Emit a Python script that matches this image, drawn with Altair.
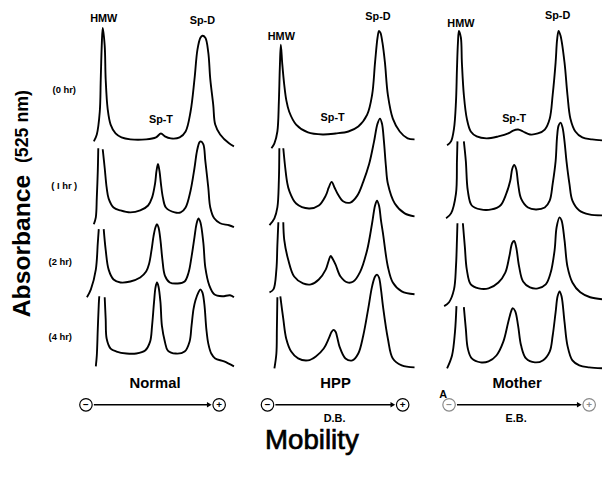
import altair as alt
import pandas as pd

# ---------------- densitometer traces (x = mobility, y = pen position) ----------------
# Normal
N0_X = [95, 98, 101, 102, 103, 104, 106, 107, 109, 112, 117, 123, 132, 148, 158, 163, 167, 173, 182, 188, 193, 197, 200, 203, 205, 208, 211, 213, 216, 218, 223, 232, 237]
N0_Y = [140, 133, 110, 77, 43, 25, 43, 77, 107, 123, 132, 136, 138, 138, 136, 132, 135, 137, 136, 130, 110, 77, 47, 35, 33, 35, 50, 77, 103, 123, 133, 142, 145]
N0_BREAK = 0

N1_X = [95, 97, 98, 99, 99.5, 104, 106, 108, 110, 115, 122, 132, 142, 150, 154, 157, 158.5, 160, 161.5, 163, 165, 168, 177, 183, 188, 193, 197, 199.5, 202, 203.5, 206, 208, 211, 213, 217, 223, 232, 237]
N1_Y = [224, 217, 197, 170, 147, 148, 167, 187, 198, 207, 210, 212, 210, 205, 197, 183, 170, 163, 170, 183, 197, 207, 212, 212, 207, 190, 167, 150, 141, 140, 143, 160, 187, 207, 218, 223, 225, 227]
N1_BREAK = 5

N2_X = [88, 92, 97, 99, 100, 105, 107, 110, 115, 122, 132, 142, 148, 151, 153.5, 155.5, 157.5, 159, 160.5, 162.5, 164.5, 167, 172, 180, 187, 191, 194, 197, 199, 201, 203, 206, 208, 212, 217, 225, 233, 237]
N2_Y = [298, 290, 270, 243, 229, 229, 250, 270, 280, 283, 282, 278, 272, 264, 250, 236, 227, 224, 227, 240, 260, 276, 283, 284, 282, 273, 257, 237, 224, 218, 222, 243, 268, 286, 295, 297, 296, 298]
N2_BREAK = 5

N4_X = [97, 98, 99, 100, 100.5, 106, 107, 108, 112, 118, 128, 138, 147, 152, 154, 156, 157.5, 159, 160.5, 162.5, 164, 167, 170, 178, 187, 192, 194, 196, 198, 201, 203, 205, 207, 209, 211, 214, 218, 227, 237]
N4_Y = [368, 357, 330, 305, 297, 298, 320, 340, 350, 353, 355, 355, 352, 343, 327, 303, 288, 283, 287, 303, 327, 343, 352, 355, 353, 343, 327, 310, 301, 293, 290, 293, 305, 330, 345, 355, 360, 363, 368]
N4_BREAK = 5

# HPP
H0_X = [275, 278, 281, 282.5, 283.5, 284.5, 286, 288, 290, 293, 300, 312, 327, 340, 353, 363, 372, 377, 380, 382.5, 384, 385.5, 387.5, 390, 393, 398, 405, 413, 420]
H0_Y = [147, 142, 130, 100, 65, 42, 62, 83, 98, 110, 123, 131, 133, 132, 130, 125, 113, 93, 60, 35, 28, 30, 40, 60, 93, 117, 130, 137, 138]
H0_BREAK = 0

H1_X = [273, 278, 281, 282.5, 283, 287, 289, 291, 293, 300, 313, 323, 330, 333, 336, 339, 342, 348, 355, 362, 368, 374, 379, 382.5, 385, 387, 389, 391, 393, 400, 410, 420]
H1_Y = [225, 218, 207, 180, 147, 147, 167, 182, 190, 203, 208, 205, 195, 187, 181, 187, 193, 201, 202, 195, 181, 163, 140, 122, 117, 122, 140, 165, 183, 203, 213, 216]
H1_BREAK = 5

H2_X = [273, 277, 280, 281, 282, 287, 288, 292, 298, 307, 315, 323, 330, 333, 335, 337, 340, 345, 352, 358, 365, 372, 377, 380, 382, 384, 386, 388, 393, 398, 407, 420]
H2_Y = [293, 290, 270, 245, 222, 222, 240, 260, 277, 284, 285, 280, 270, 261, 256, 259, 265, 277, 283, 282, 272, 250, 223, 205, 200, 205, 220, 233, 267, 283, 292, 295]
H2_BREAK = 5

H4_X = [278, 280, 280.5, 281, 284, 287, 290, 295, 302, 312, 320, 328, 333, 336, 338, 340, 342, 344, 350, 357, 363, 368, 373, 377, 380, 382, 384, 386, 388, 393, 398, 407, 420]
H4_Y = [370, 355, 330, 298, 297, 320, 340, 353, 360, 362, 358, 350, 340, 333, 331, 333, 340, 348, 360, 362, 355, 337, 310, 287, 277, 275, 278, 290, 307, 340, 360, 367, 369]
H4_BREAK = 4

# Mother
M0_X = [453, 457, 460, 462, 463, 464, 465, 467, 468, 470, 473, 477, 483, 493, 505, 515, 520, 525, 530, 537, 545, 552, 557, 560, 563, 564.5, 566, 568, 572, 575, 578, 583, 590, 600, 610]
M0_Y = [144, 140, 127, 100, 67, 40, 28, 35, 60, 93, 117, 130, 135, 137, 135, 132, 129, 128, 130, 133, 132, 128, 117, 93, 60, 37, 28, 33, 60, 93, 117, 130, 136, 138, 139]
M0_BREAK = 0

M1_X = [452, 457, 462, 463, 463.5, 470, 472, 474, 478, 487, 498, 507, 513, 517, 519, 521, 523, 525, 528, 535, 543, 552, 557, 560, 563, 564.5, 566, 568, 570, 572, 574, 577, 580, 587, 597, 610]
M1_Y = [218, 213, 193, 160, 140, 140, 160, 190, 205, 209, 209, 205, 193, 180, 168, 164, 168, 183, 198, 207, 209, 207, 200, 183, 160, 135, 124, 121, 126, 140, 160, 183, 200, 210, 214, 215]
M1_BREAK = 5

M2_X = [450, 455, 460, 462, 463, 463.5, 469, 471, 473, 477, 485, 495, 505, 512, 516, 519, 521, 523, 526, 530, 537, 545, 553, 558, 562, 564, 567, 569, 572, 575, 580, 588, 598, 610]
M2_Y = [307, 303, 290, 267, 240, 223, 223, 247, 270, 285, 289, 289, 283, 273, 257, 243, 241, 247, 267, 282, 288, 289, 285, 273, 250, 227, 217, 220, 240, 267, 283, 293, 298, 300]
M2_BREAK = 6

M4_X = [453, 458, 461, 462.5, 470, 472, 474, 478, 487, 495, 503, 510, 515, 518, 519.5, 522, 525, 528, 533, 542, 550, 557, 560, 563, 565, 567, 569, 572, 575, 580, 587, 597, 610]
M4_Y = [370, 357, 333, 307, 308, 330, 350, 360, 364, 363, 357, 343, 323, 312, 309, 312, 327, 347, 360, 364, 362, 353, 337, 313, 297, 292, 297, 323, 347, 362, 367, 369, 370]
M4_BREAK = 4

TRACES = {
    "N0": (N0_X, N0_Y, N0_BREAK), "N1": (N1_X, N1_Y, N1_BREAK),
    "N2": (N2_X, N2_Y, N2_BREAK), "N4": (N4_X, N4_Y, N4_BREAK),
    "H0": (H0_X, H0_Y, H0_BREAK), "H1": (H1_X, H1_Y, H1_BREAK),
    "H2": (H2_X, H2_Y, H2_BREAK), "H4": (H4_X, H4_Y, H4_BREAK),
    "M0": (M0_X, M0_Y, M0_BREAK), "M1": (M1_X, M1_Y, M1_BREAK),
    "M2": (M2_X, M2_Y, M2_BREAK), "M4": (M4_X, M4_Y, M4_BREAK),
}

# ---------------- labels ----------------
PEAK_TEXT = ["HMW", "Sp-D", "Sp-T", "HMW", "Sp-D", "Sp-T", "HMW", "Sp-D", "Sp-T"]
PEAK_X = [105, 205, 163, 285, 383, 337, 467, 565, 521]
PEAK_Y = [16, 18, 118, 34, 14, 116, 21, 13, 117]

ROW_TEXT = ["(0 hr)", "( I hr )", "(2 hr)", "(4 hr)"]
ROW_X = [65, 65, 61, 61]
ROW_Y = [88, 185, 262, 338]

GROUP_TEXT = ["Normal", "HPP", "Mother"]
GROUP_X = [157, 340, 524]
GROUP_Y = [385, 385, 385]

SUB_TEXT = ["D.B.", "E.B.", "A"]
SUB_X = [339, 523, 449]
SUB_Y = [421, 421, 397]

MINUS_X = [87, 271, 455]
PLUS_X = [222, 408, 597]
ARROW_Y = 407
CIRCLE_STYLE = ["solid", "solid", "faint"]

MOBILITY_POS = (316, 444)

SCALE_X = alt.Scale(domain=[8, 610], nice=False, zero=False)
SCALE_Y = alt.Scale(domain=[477, 8], nice=False, zero=False)
X = alt.X("x:Q", scale=SCALE_X, axis=None)
Y = alt.Y("y:Q", scale=SCALE_Y, axis=None)

rows = []
for name, (xs, ys, brk) in TRACES.items():
    for i, (xv, yv) in enumerate(zip(xs, ys)):
        seg = "a" if (brk == 0 or i < brk) else "b"
        rows.append({"x": xv, "y": yv, "seg": name + seg, "i": i})
trace_df = pd.DataFrame(rows)

lines = alt.Chart(trace_df).mark_line(
    color="black", strokeWidth=1.9, interpolate="catmull-rom", clip=True
).encode(x=X, y=Y, detail="seg:N", order="i:Q")

def text_layer(xs, ys, texts, size, weight="bold", font="Liberation Sans", stroke_w=0.0):
    df = pd.DataFrame({"x": xs, "y": ys, "t": texts})
    props = dict(font=font, fontWeight=weight, fontSize=size, color="black", baseline="middle")
    if stroke_w > 0:
        props.update(stroke="black", strokeWidth=stroke_w)
    return alt.Chart(df).mark_text(**props).encode(x=X, y=Y, text="t:N")

peaks = text_layer(PEAK_X, PEAK_Y, PEAK_TEXT, 11)
rowlab = text_layer(ROW_X, ROW_Y, ROW_TEXT, 9.5)
grp = text_layer(GROUP_X, GROUP_Y, GROUP_TEXT, 15)
sub = text_layer(SUB_X, SUB_Y, SUB_TEXT, 11)

arrow_df = pd.DataFrame({"x": [m + 8 for m in MINUS_X], "x2": [p - 10 for p in PLUS_X],
                         "y": [ARROW_Y] * 3})
shafts = alt.Chart(arrow_df).mark_rule(color="black", strokeWidth=1.4).encode(
    x=X, x2="x2:Q", y=Y)
heads = alt.Chart(arrow_df).mark_point(
    shape="triangle-right", filled=True, color="black", size=30, opacity=1
).encode(x=alt.X("x2:Q", scale=SCALE_X, axis=None), y=Y)

circ_df = pd.DataFrame({
    "x": MINUS_X + PLUS_X, "y": [ARROW_Y] * 6,
    "sign": ["−"] * 3 + ["+"] * 3, "style": CIRCLE_STYLE * 2,
})
style_color = alt.Color("style:N", scale=alt.Scale(domain=["solid", "faint"], range=["black", "#8a8a8a"]), legend=None)
circles = alt.Chart(circ_df).mark_point(
    shape="circle", filled=False, size=160, strokeWidth=1.2, opacity=1
).encode(x=X, y=Y, color=style_color)
signs = alt.Chart(circ_df).mark_text(
    font="Liberation Sans", fontWeight="bold", fontSize=10, baseline="middle"
).encode(x=X, y=Y, text="sign:N", color=style_color)

ytitle_df = pd.DataFrame({"x": [22, 23], "y": [246, 125], "t": ["Absorbance", "(525 nm)"], "s": [25, 18]})
ytitle = alt.Chart(ytitle_df).mark_text(
    font="Liberation Sans", fontWeight="bold", angle=270, baseline="middle", color="black"
).encode(x=X, y=Y, text="t:N", size=alt.Size("s:Q", scale=None, legend=None))

xtitle = text_layer([MOBILITY_POS[0]], [MOBILITY_POS[1]], ["Mobility"], 28, weight="normal", stroke_w=0.7)

chart = alt.layer(
    lines, peaks, rowlab, grp, sub, shafts, heads, circles, signs, ytitle, xtitle
).properties(
    width=602, height=469, padding=0, autosize=alt.AutoSizeParams(type="none")
).configure_view(strokeWidth=0)

chart.save("out.html", embed_options={"renderer": "svg", "actions": False})
